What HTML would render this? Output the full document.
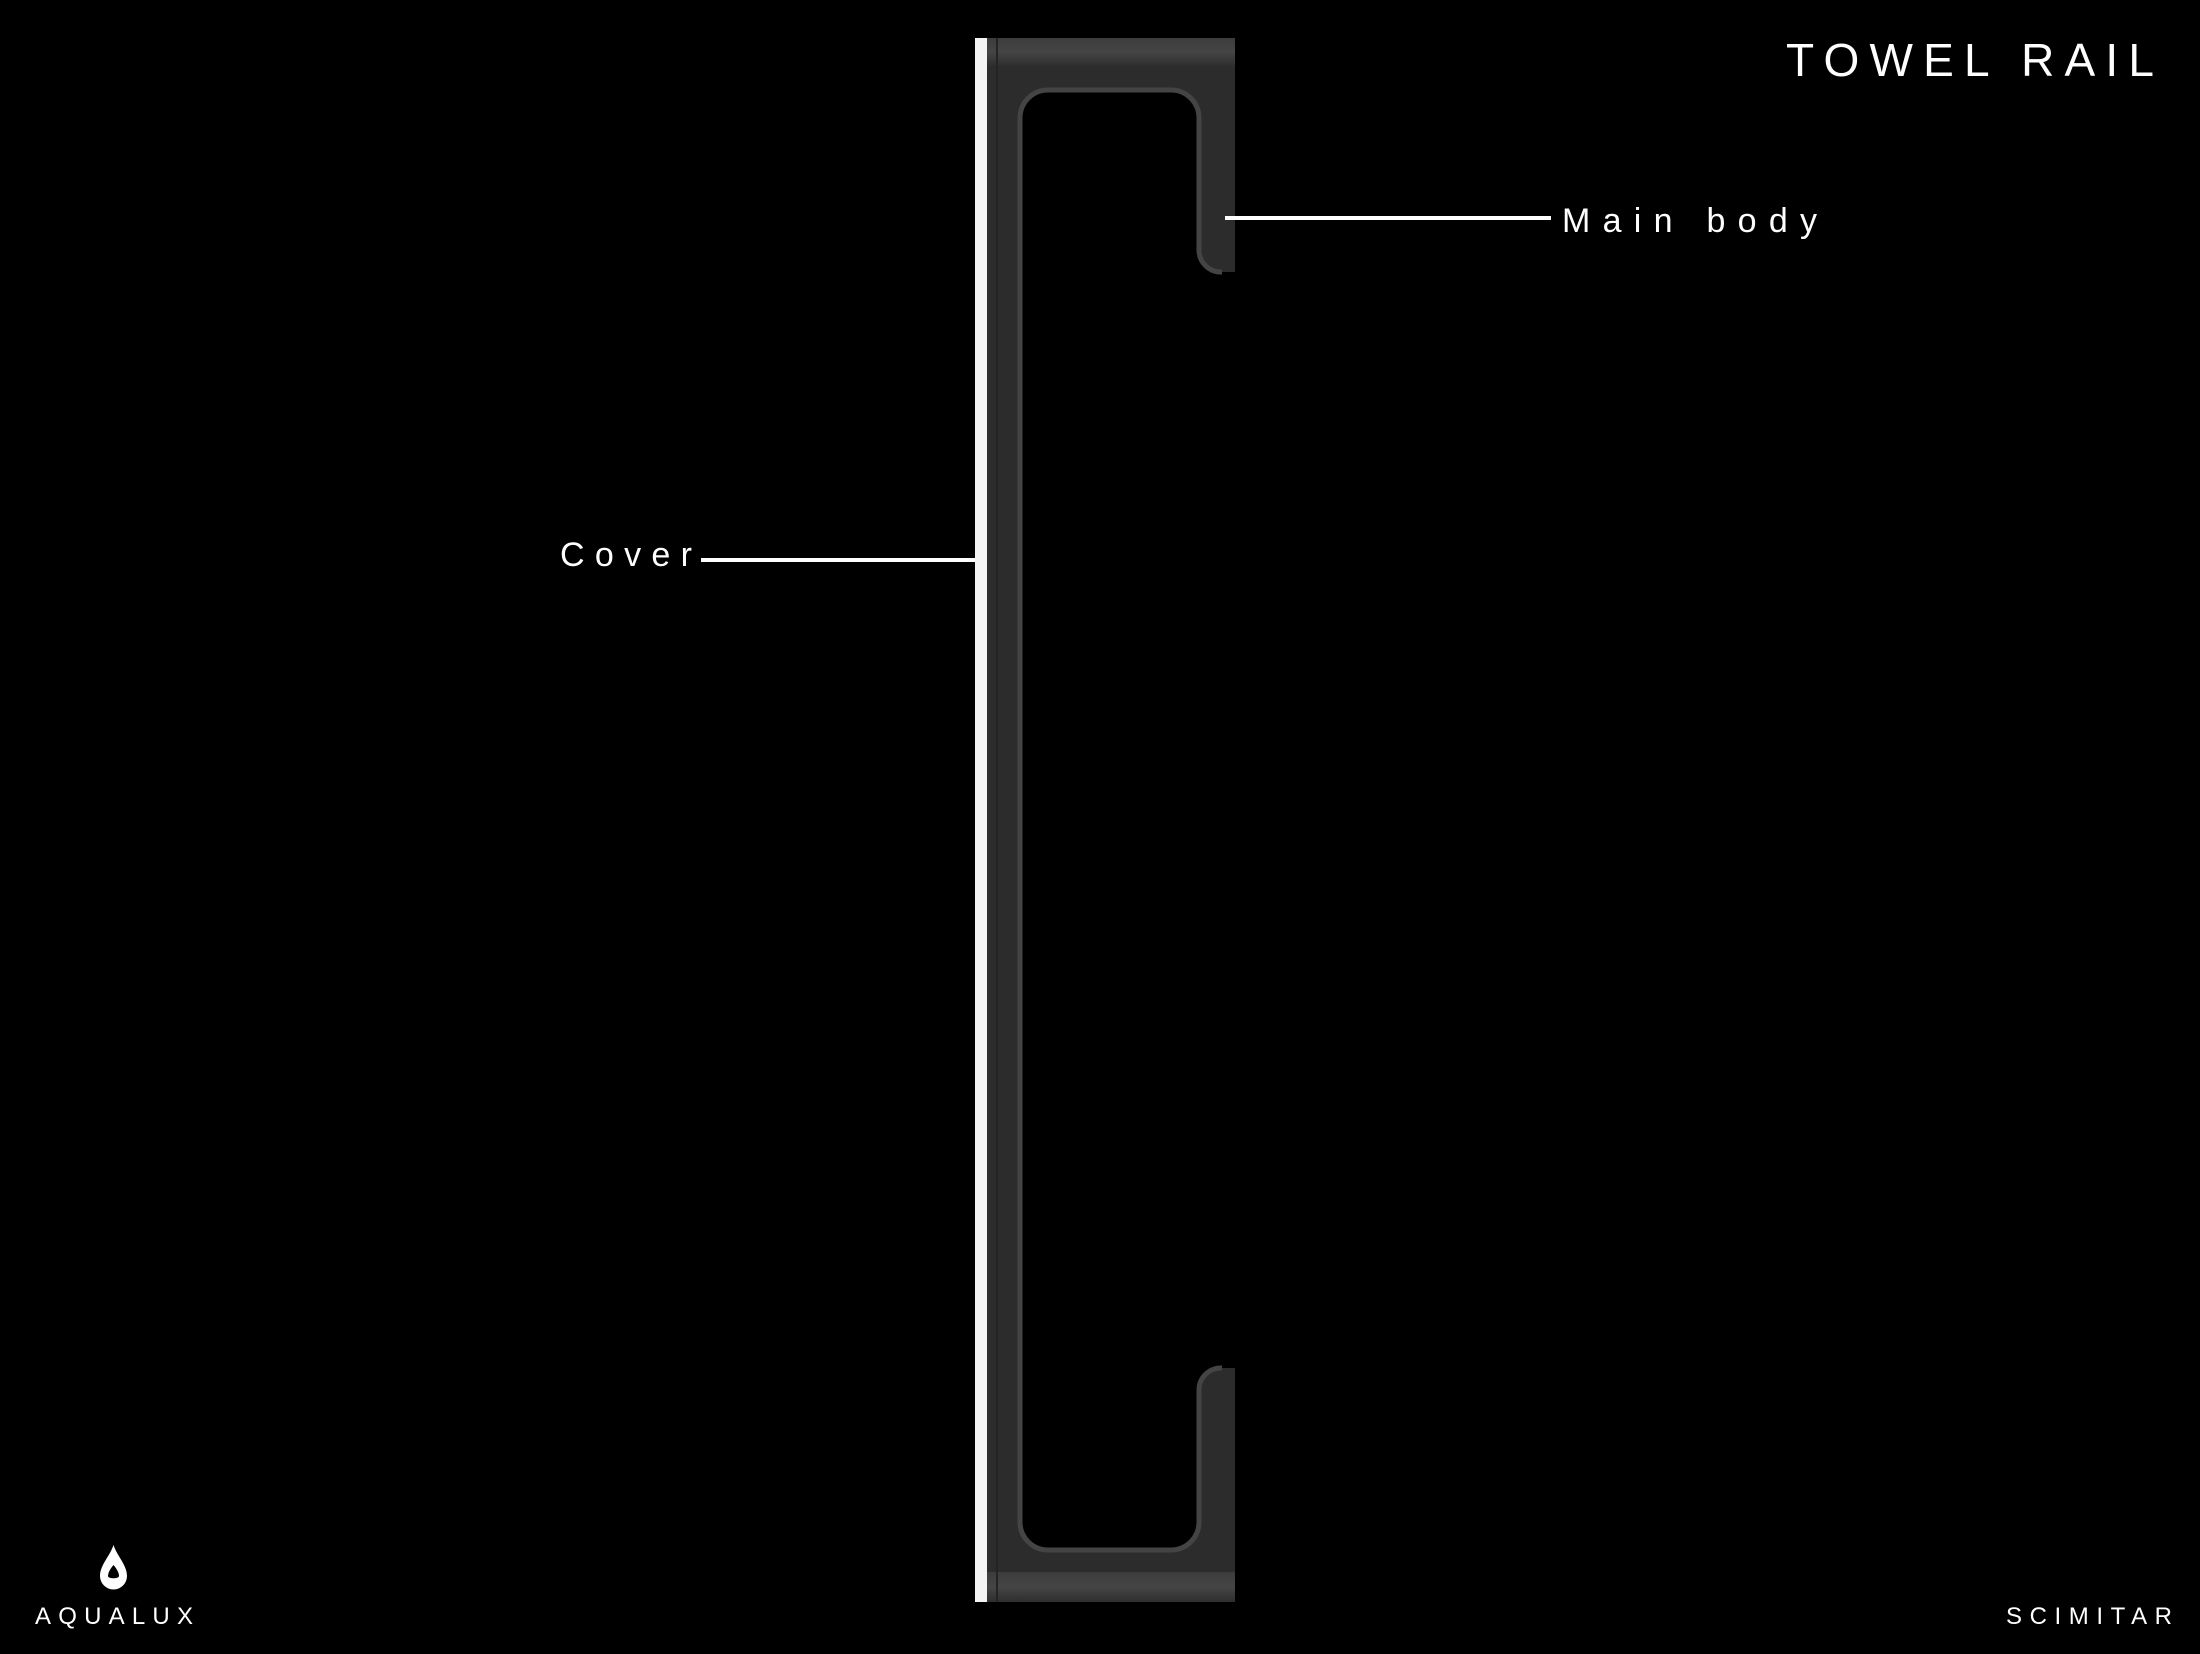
<!DOCTYPE html>
<html><head><meta charset="utf-8"><style>html,body{margin:0;padding:0;background:#000;}svg{display:block}</style></head>
<body>
<svg width="2200" height="1654" viewBox="0 0 2200 1654" xmlns="http://www.w3.org/2000/svg">
<defs>
<linearGradient id="tb" x1="0" y1="0" x2="0" y2="1">
<stop offset="0" stop-color="#3c3c3c"/><stop offset="0.5" stop-color="#454545"/><stop offset="1" stop-color="#2e2e2e"/>
</linearGradient>
</defs>
<rect width="2200" height="1654" fill="#000"/>
<!-- main body -->
<path d="M987 38 H1235 V272 H1222 A22 22 0 0 1 1199 250 V118 A28 28 0 0 0 1171 90 H1048 A28 28 0 0 0 1020 118 V1522 A28 28 0 0 0 1048 1550 H1171 A28 28 0 0 0 1199 1522 V1390 A22 22 0 0 1 1222 1368 H1235 V1602 H987 Z" fill="#2c2c2c"/>
<rect x="987" y="38" width="248" height="28" fill="url(#tb)"/>
<rect x="987" y="1572" width="248" height="30" fill="url(#tb)"/>
<path d="M1020 1522 V118 A28 28 0 0 1 1048 90 H1171 A28 28 0 0 1 1199 118 V250 A22 22 0 0 0 1222 272" fill="none" stroke="#444" stroke-width="5"/>
<path d="M1020 118 V1522 A28 28 0 0 0 1048 1550 H1171 A28 28 0 0 0 1199 1522 V1390 A22 22 0 0 1 1222 1368" fill="none" stroke="#444" stroke-width="5"/>
<path d="M1020 118 A28 28 0 0 1 1048 90 H1171 A28 28 0 0 1 1199 118 V250 A22 22 0 0 0 1222 272 M1020 1522 A28 28 0 0 0 1048 1550 H1171 A28 28 0 0 0 1199 1522 V1390" fill="none" stroke="#000" stroke-width="0"/>
<rect x="996" y="38" width="2" height="1564" fill="#242424"/>
<!-- cover -->
<rect x="975" y="38" width="12" height="1564" fill="#f4f4f4"/>
<!-- leader lines -->
<rect x="1225" y="216" width="326" height="4" fill="#fff"/>
<rect x="701" y="558" width="274" height="4" fill="#fff"/>
<g fill="#fff" font-family="Liberation Sans, sans-serif">
<text x="1786" y="76" font-size="46" textLength="368" lengthAdjust="spacing">TOWEL RAIL</text>
<text x="1562" y="232" font-size="34" textLength="255" lengthAdjust="spacing">Main body</text>
<text x="560" y="566" font-size="34" textLength="132" lengthAdjust="spacing">Cover</text>
<text x="35" y="1624" font-size="24" textLength="158" lengthAdjust="spacing">AQUALUX</text>
<text x="2006" y="1624" font-size="24" textLength="166" lengthAdjust="spacing">SCIMITAR</text>
</g>
<!-- drop logo -->
<path d="M113.5 1545 C110 1556 100 1565 100 1576 A13.5 13.5 0 0 0 127 1576 C127 1565 117 1556 113.5 1545 Z" fill="#fff"/>
<path d="M113.5 1565 C110 1569 108 1573 108 1576 C108 1579 119 1579 119 1576 C119 1573 117 1569 113.5 1565 Z" fill="#000"/>
</svg>
</body></html>
